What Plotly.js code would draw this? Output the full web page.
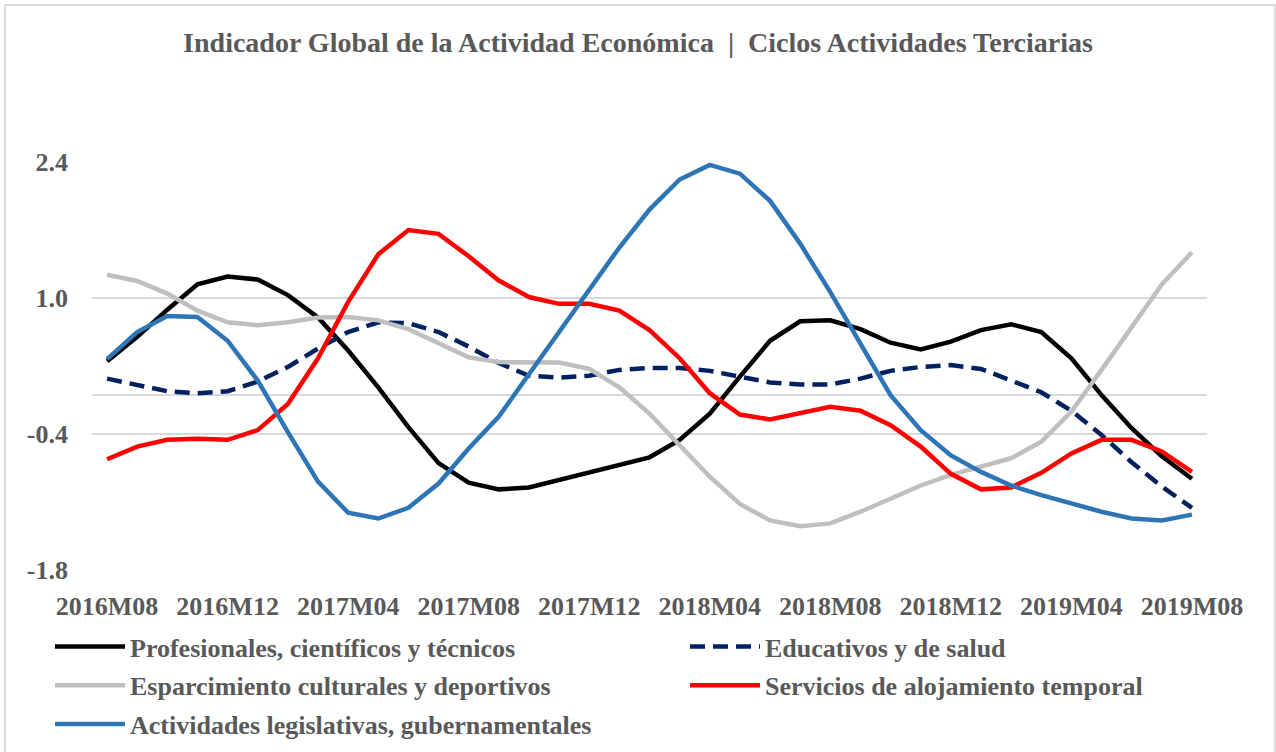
<!DOCTYPE html>
<html>
<head>
<meta charset="utf-8">
<script src="https://cdn.plot.ly/plotly-3.0.1.min.js"></script>
<style>
  html, body { margin:0; padding:0; background:#fff; }
  #wrap { position:relative; width:1276px; height:752px; overflow:hidden; }
  #chart { width:1276px; height:752px; }
  #frame { position:absolute; left:4px; top:4px; width:1268px; height:770px; border:2px solid #d9d9d9; pointer-events:none; box-sizing:content-box; }
</style>
</head>
<body>
<div id="wrap"><div id="chart"></div><div id="frame"></div></div>
<script>
// Monthly categories 2016M08 .. 2019M08
const months = [
  "2016M08","2016M09","2016M10","2016M11","2016M12",
  "2017M01","2017M02","2017M03","2017M04","2017M05","2017M06","2017M07","2017M08","2017M09","2017M10","2017M11","2017M12",
  "2018M01","2018M02","2018M03","2018M04","2018M05","2018M06","2018M07","2018M08","2018M09","2018M10","2018M11","2018M12",
  "2019M01","2019M02","2019M03","2019M04","2019M05","2019M06","2019M07","2019M08"
];
const tickLabels = ["2016M08","2016M12","2017M04","2017M08","2017M12","2018M04","2018M08","2018M12","2019M04","2019M08"];

const profesionales = [0.35, 0.60, 0.88, 1.14, 1.22, 1.19, 1.03, 0.80, 0.46, 0.08, -0.33, -0.70, -0.90,
  -0.97, -0.95, -0.87, -0.80, -0.72, -0.64, -0.46, -0.19, 0.19, 0.56, 0.76, 0.77, 0.68,
  0.54, 0.47, 0.55, 0.67, 0.73, 0.65, 0.38, 0.00, -0.34, -0.63, -0.86];
const educativos = [0.17, 0.11, 0.04, 0.02, 0.04, 0.14, 0.29, 0.48, 0.65, 0.75, 0.74, 0.65, 0.50,
  0.33, 0.20, 0.18, 0.20, 0.26, 0.28, 0.28, 0.25, 0.19, 0.13, 0.11, 0.11, 0.17,
  0.25, 0.29, 0.31, 0.27, 0.15, 0.03, -0.16, -0.41, -0.69, -0.94, -1.16];
const esparcimiento = [1.24, 1.175, 1.045, 0.87, 0.75, 0.72, 0.75, 0.80, 0.805, 0.77, 0.68, 0.53, 0.39,
  0.34, 0.335, 0.335, 0.27, 0.08, -0.19, -0.52, -0.84, -1.12, -1.29, -1.35, -1.32, -1.20,
  -1.06, -0.93, -0.82, -0.74, -0.65, -0.48, -0.17, 0.26, 0.71, 1.14, 1.47];
const alojamiento = [-0.66, -0.53, -0.46, -0.45, -0.46, -0.36, -0.09, 0.38, 0.96, 1.45, 1.70, 1.66, 1.43,
  1.18, 1.01, 0.94, 0.94, 0.87, 0.67, 0.38, 0.02, -0.20, -0.25, -0.18, -0.12, -0.16,
  -0.31, -0.53, -0.81, -0.97, -0.95, -0.80, -0.60, -0.46, -0.46, -0.58, -0.79];
const legislativas = [0.37, 0.65, 0.815, 0.805, 0.56, 0.15, -0.38, -0.89, -1.21, -1.27, -1.16, -0.91, -0.55,
  -0.22, 0.215, 0.65, 1.09, 1.52, 1.91, 2.22, 2.37, 2.28, 2.00, 1.56, 1.06, 0.52,
  0.00, -0.36, -0.62, -0.79, -0.93, -1.03, -1.12, -1.20, -1.27, -1.29, -1.23];

const seriesNames = [
  "Profesionales, científicos y técnicos",
  "Educativos y de salud",
  "Esparcimiento culturales y deportivos",
  "Servicios de alojamiento temporal",
  "Actividades legislativas, gubernamentales"
];
const yTicks = [-1.8, -0.4, 1.0, 2.4];
const yTickText = ["-1.8", "-0.4", "1.0", "2.4"];

const idx = months.map((m, i) => i);
const tickIdx = tickLabels.map(t => months.indexOf(t));

function tr(name, y, color, dash, legend, group) {
  return {
    type: 'scatter', mode: 'lines', name: name, x: idx, y: y,
    text: months, hovertemplate: '%{text}: %{y}<extra>' + name + '</extra>',
    line: { color: color, width: 4.5, dash: dash || 'solid' },
    legend: legend, legendgroup: group
  };
}

const data = [
  tr(seriesNames[0], profesionales, '#000000', 'solid', 'legend', 'g1'),
  tr(seriesNames[1], educativos, '#002060', '15px,8px', 'legend2', 'g2'),
  tr(seriesNames[2], esparcimiento, '#BFBFBF', 'solid', 'legend', 'g3'),
  tr(seriesNames[3], alojamiento, '#FF0000', 'solid', 'legend2', 'g4'),
  tr(seriesNames[4], legislativas, '#2E75B6', 'solid', 'legend', 'g5')
];

const FONT = '"Liberation Serif", "DejaVu Serif", serif';
const GREY = '#595959';

const layout = {
  width: 1276, height: 752,
  margin: { l: 92, r: 69, t: 162, b: 182, autoexpand: false },
  paper_bgcolor: '#ffffff', plot_bgcolor: '#ffffff',
  font: { family: FONT, color: GREY, size: 26, weight: 700 },
  title: {
    text: 'Indicador Global de la Actividad Económica\u00A0 |\u00A0 Ciclos Actividades Terciarias',
    x: 0.5, xref: 'container', xanchor: 'center',
    y: 1 - 42 / 752, yref: 'container', yanchor: 'middle',
    font: { family: FONT, size: 28, color: GREY, weight: 700 }
  },
  xaxis: {
    range: [-0.5, 36.5], tickmode: 'array', tickvals: tickIdx, ticktext: tickLabels,
    showgrid: false, zeroline: false, showline: false, ticks: '', tickangle: 0,
    ticklabelstandoff: 18,
    tickfont: { family: FONT, size: 26, color: GREY, weight: 700 }, fixedrange: true
  },
  yaxis: {
    range: [-1.8, 2.4], tickmode: 'array', tickvals: yTicks, ticktext: yTickText,
    showgrid: true, gridcolor: '#d9d9d9', gridwidth: 1.5,
    zeroline: true, zerolinecolor: '#d9d9d9', zerolinewidth: 1.5,
    showline: false, ticks: '', ticklabelstandoff: 23,
    tickfont: { family: FONT, size: 26, color: GREY, weight: 700 }, fixedrange: true
  },
  showlegend: true,
  legend: {
    orientation: 'v', x: (50 - 92) / 1115, xanchor: 'left',
    y: (570 - 623) / 408, yanchor: 'top',
    itemwidth: 70, tracegroupgap: 2, traceorder: 'grouped',
    bgcolor: 'rgba(0,0,0,0)', borderwidth: 0,
    font: { family: FONT, size: 26, color: GREY, weight: 700 }
  },
  legend2: {
    orientation: 'v', x: (685 - 92) / 1115, xanchor: 'left',
    y: (570 - 623) / 408, yanchor: 'top',
    itemwidth: 70, tracegroupgap: 2, traceorder: 'grouped',
    bgcolor: 'rgba(0,0,0,0)', borderwidth: 0,
    font: { family: FONT, size: 26, color: GREY, weight: 700 }
  },
  hovermode: 'closest'
};

Plotly.newPlot('chart', data, layout, { displayModeBar: false, responsive: false });
</script>
</body>
</html>
